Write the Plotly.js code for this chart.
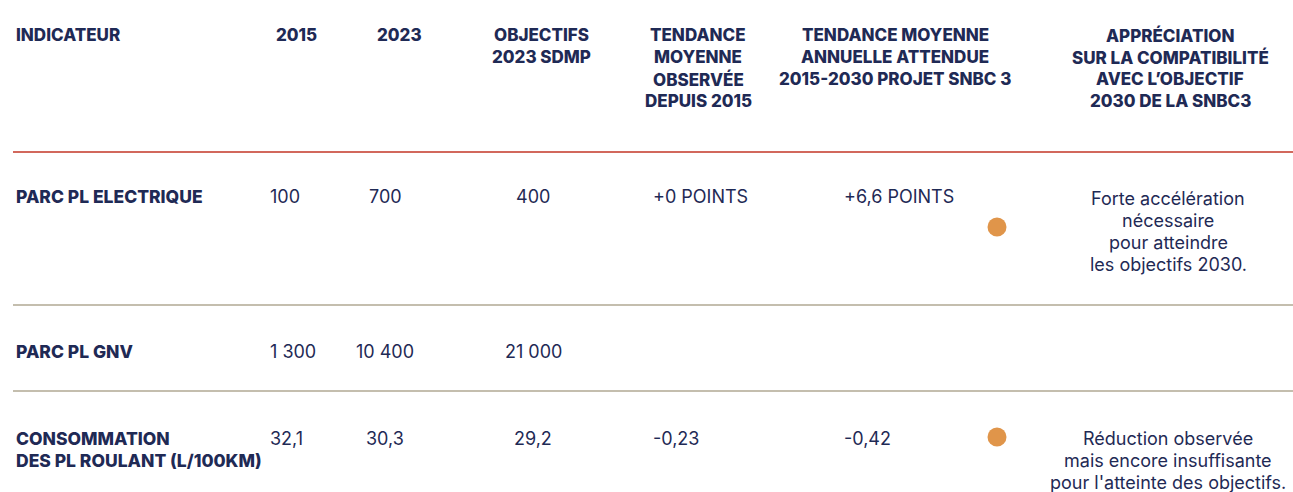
<!DOCTYPE html>
<html>
<head>
<meta charset="utf-8">
<script src="https://cdn.plot.ly/plotly-3.0.1.min.js"></script>
<style>html,body{margin:0;padding:0;background:#fff;}#chart{width:1293px;height:492px;}</style>
</head>
<body>
<div id="chart"></div>
<script>
// ---- Data ----
const headers = [
  "INDICATEUR",
  "2015",
  "2023",
  "OBJECTIFS<br>2023 SDMP",
  "TENDANCE<br>MOYENNE<br>OBSERVÉE<br>DEPUIS 2015",
  "TENDANCE MOYENNE<br>ANNUELLE ATTENDUE<br>2015-2030 PROJET SNBC 3",
  "APPRÉCIATION<br>SUR LA COMPATIBILITÉ<br>AVEC L’OBJECTIF<br>2030 DE LA SNBC3"
];
const indicators = ["PARC PL ELECTRIQUE", "PARC PL GNV", "CONSOMMATION<br>DES PL ROULANT (L/100KM)"];
const values2015 = ["100", "1 300", "32,1"];
const values2023 = ["700", "10 400", "30,3"];
const objectives2023 = ["400", "21 000", "29,2"];
const observedTrend = ["+0 POINTS", "", "-0,23"];
const expectedTrend = ["+6,6 POINTS", "", "-0,42"];
const appreciation = [
  "Forte accélération<br>nécessaire<br>pour atteindre<br>les objectifs 2030.",
  "",
  "Réduction observée<br>mais encore insuffisante<br>pour l'atteinte des objectifs."
];
const status = ["orange", null, "orange"];

// ---- Layout helpers ----
const NAVY = "#1f2a55";
const statusColors = {orange: "#e0954a"};
const headerFont = {family: "Inter, 'DejaVu Sans', sans-serif", size: 17, color: NAVY, weight: 800};
const labelFont = {family: "Inter, 'DejaVu Sans', sans-serif", size: 17.5, color: NAVY, weight: 800};
const bodyFont = {family: "Inter, 'Noto Sans', sans-serif", size: 18, color: NAVY};
const LH = 22;

const headerCols = [
  {x: 14, anchor: "left"},
  {x: 296, anchor: "center"},
  {x: 399, anchor: "center"},
  {x: 541, anchor: "center"},
  {x: 698, anchor: "center"},
  {x: 895, anchor: "center"},
  {x: 1170, anchor: "center"}
];
const headerY = 35;
const rowY = [196, 351, 438];
const dotY = [227, 351, 437];
const apprY = [198, 351, 438];
const dotX = 997;

const annotations = [];
function addLines(text, x, y, anchor, font) {
  text.split("<br>").forEach((line, i) => {
    if (!line) return;
    annotations.push({
      xref: "x", yref: "y", x: x, y: y + i * LH, text: line,
      xanchor: anchor, yanchor: "middle", showarrow: false, font: font, align: anchor
    });
  });
}
headers.forEach((h, i) => addLines(h, headerCols[i].x, headerY, headerCols[i].anchor, headerFont));

indicators.forEach((lab, r) => {
  addLines(lab, 14, rowY[r], "left", labelFont);
  addLines(values2015[r], 268, rowY[r], "left", bodyFont);
  addLines(values2023[r], 385, rowY[r], "center", bodyFont);
  addLines(objectives2023[r], 533, rowY[r], "center", bodyFont);
  addLines(observedTrend[r], 651, rowY[r], "left", bodyFont);
  addLines(expectedTrend[r], 842, rowY[r], "left", bodyFont);
  addLines(appreciation[r], 1168, apprY[r], "center", bodyFont);
});

const dots = {x: [], y: [], color: []};
status.forEach((s, r) => {
  if (s) { dots.x.push(dotX); dots.y.push(dotY[r]); dots.color.push(statusColors[s]); }
});

const shapes = [
  {type: "line", xref: "x", yref: "y", x0: 13, x1: 1293, y0: 152, y1: 152, line: {color: "#d2685c", width: 2}},
  {type: "line", xref: "x", yref: "y", x0: 13, x1: 1293, y0: 305, y1: 305, line: {color: "#b1a993", width: 1.5}},
  {type: "line", xref: "x", yref: "y", x0: 13, x1: 1293, y0: 391, y1: 391, line: {color: "#b1a993", width: 1.5}}
];

const data = [{
  type: "scatter", mode: "markers", x: dots.x, y: dots.y,
  marker: {size: 19, color: dots.color}, hoverinfo: "skip", showlegend: false
}];

const layout = {
  width: 1293, height: 492,
  margin: {l: 0, r: 0, t: 0, b: 0},
  paper_bgcolor: "#fff", plot_bgcolor: "#fff",
  xaxis: {range: [0, 1293], visible: false, fixedrange: true},
  yaxis: {range: [492, 0], visible: false, fixedrange: true},
  showlegend: false,
  annotations: annotations,
  shapes: shapes
};
Plotly.newPlot("chart", data, layout, {displayModeBar: false, staticPlot: true});
</script>
</body>
</html>
